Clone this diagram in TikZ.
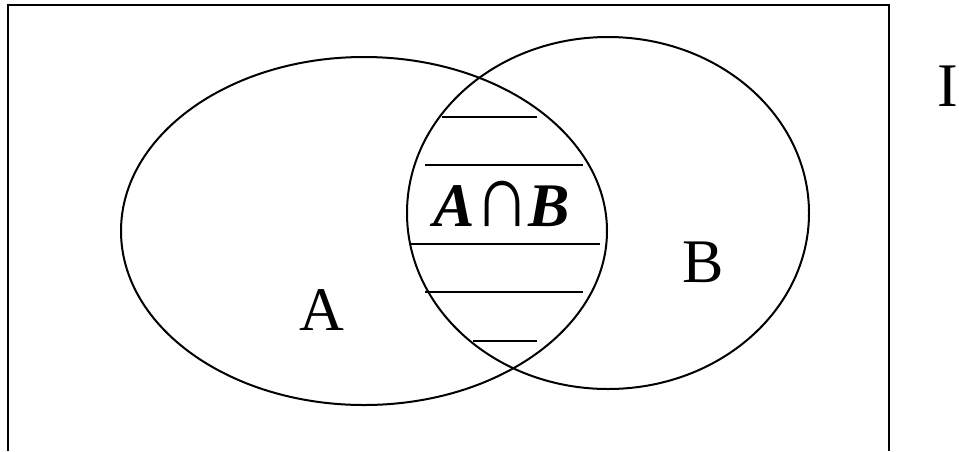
\documentclass[tikz,border=0pt]{standalone}
\usepackage{fontspec}
\setmainfont{Liberation Serif}
\usepackage{tikz}
\usetikzlibrary{positioning}
\tikzstyle{setline} = [line width=2pt, black]
\tikzstyle{hatch} = [line width=2pt, black]
\tikzstyle{label} = [inner sep=0pt, font=\fontsize{62}{62}\selectfont]

\begin{document}
\begin{tikzpicture}[x=1pt, y=-1pt]
    \useasboundingbox (0,0) rectangle (959,451);
    % Universe (open at the bottom)
    \draw [line width=2.2pt] (8,451) -- (8,5) -- (889,5) -- (889,451);

    % Sets
    \draw [setline] (364,231) ellipse [x radius=243, y radius=174];
    \draw [setline] (608,213) ellipse [x radius=201, y radius=176];

    % Hatching of the intersection
    \coordinate (h1l) at (442,117); \coordinate (h1r) at (537,117);
    \coordinate (h2l) at (425,165); \coordinate (h2r) at (583,165);
    \coordinate (h3l) at (409,244); \coordinate (h3r) at (600,244);
    \coordinate (h4l) at (425,292); \coordinate (h4r) at (583,292);
    \coordinate (h5l) at (473,341); \coordinate (h5r) at (537,341);
    \draw [hatch] (h1l) -- (h1r);
    \draw [hatch] (h2l) -- (h2r);
    \draw [hatch] (h3l) -- (h3r);
    \draw [hatch] (h4l) -- (h4r);
    \draw [hatch] (h5l) -- (h5r);

    % Labels
    \node (AB) [label] at (502,204) {\textbf{\textit{A}}\kern-1pt\scalebox{1.25}[1.45]{∩}\kern-1pt\textbf{\textit{B}}};
    \node (A) [label] at (322,310) {A};
    \node (B) [label] at (703,262) {B};
    \node (I) [label] at (948,86) {I};
\end{tikzpicture}
\end{document}
